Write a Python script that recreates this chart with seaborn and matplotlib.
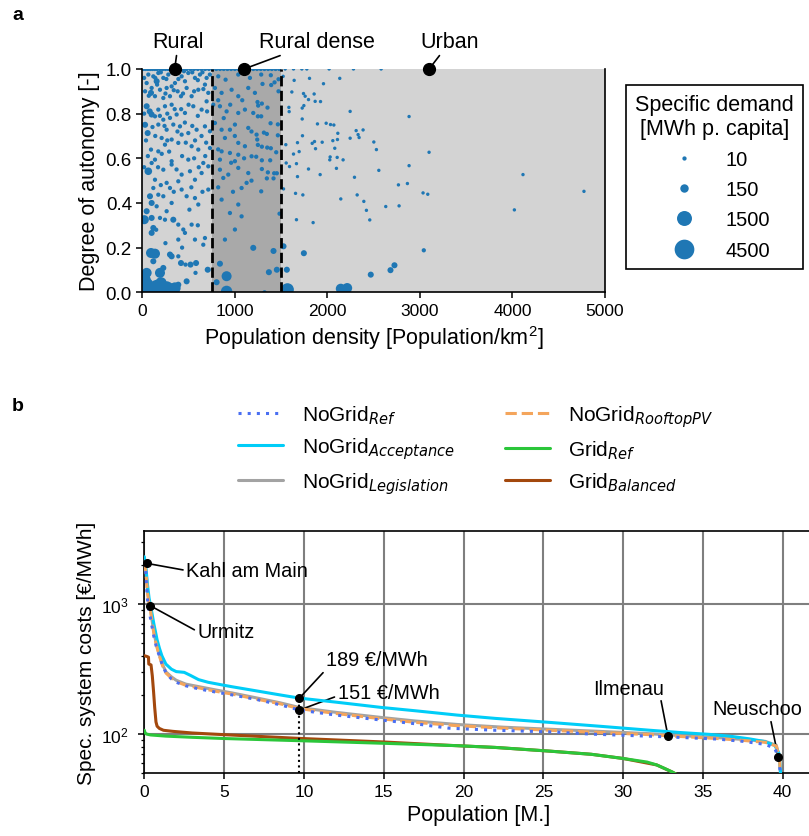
import numpy as np
import pandas as pd
import matplotlib
matplotlib.use("Agg")
import matplotlib.pyplot as plt
import seaborn as sns
from matplotlib.lines import Line2D

# ---------------- panel a : scatter data ----------------
density = [
    10, 35, 60, 85, 110, 135, 160, 190, 220, 250, 280, 310, 340, 370, 400, 440, 480, 520, 560, 600,
    640, 680, 720, 760, 800, 840, 880, 920, 960, 1000, 1040, 1080, 1120, 1160, 1200, 1240, 1280, 1320,
    1360, 1400, 1440, 1480, 1544, 1634, 1724, 1778, 2019, 2282, 2581,
    65, 119, 173, 227, 281, 425, 497, 569, 623, 695, 821, 900, 1037, 1163, 47, 155, 353, 461, 677,
    94, 101, 191, 263, 317, 382, 479, 533, 605, 713, 785, 857, 965, 1037, 1145, 1217, 137, 227, 299, 418,
    47, 101, 173, 245, 317, 371, 461, 551, 641, 695, 767, 839, 911, 1037, 1109, 1199, 137, 227, 299,
    58, 173, 263, 335, 407, 497, 587, 677, 731, 785, 857, 947, 1001, 1145, 1235, 209, 317, 425, 893, 1037, 1109,
    94, 173, 245, 389, 533, 605, 731, 857, 947, 1037, 1181, 137, 317, 497, 659, 839, 1001, 101,
    65, 227, 317, 425, 515, 641, 713, 839, 929, 1037, 1145, 137, 263, 389, 569, 875, 1127, 119, 299,
    83, 173, 227, 425, 479, 569, 713, 857, 1073, 101, 155, 317, 509, 605, 1037, 947, 1073, 47, 263,
    22, 101, 191, 245, 335, 389, 443, 461, 533, 677, 659, 569, 1001, 893, 389, 101, 119, 1199,
    94, 137, 119, 299, 317, 389, 418, 467, 521, 581, 707, 575, 839, 227, 191, 47, 911,
    29, 47, 83, 155, 202, 263, 353, 479, 29, 191, 803, 911, 389, 299,
    1285, 1389, 1429, 1299, 1393, 1472, 1472, 1245, 1292, 1252, 1353, 1285, 1249, 1386, 1465, 1314, 1346,
    1465, 1242, 1249, 1292, 1350, 1389, 1447, 1231, 1292, 1382, 1292, 1357, 1425, 1454, 1346, 1418, 1285,
    1483, 1418, 1454, 1368, 1321,
    1522, 1641, 1807, 1958, 2134, 1616, 1742, 1760, 1796, 1857, 1868, 1926, 1746, 1728, 1584, 1587, 2246,
    1728, 1893, 1987, 2034, 2070, 2311, 2113, 2386, 2332, 2343, 2246, 1731, 2059, 2109, 2502, 1836, 1861,
    1677, 1944, 1551, 1872, 2080, 2530, 1695, 1634, 2030, 2106, 2170, 2026, 1555, 1666, 1591, 1796, 2098,
    2556, 1922, 1677, 2293, 1526, 1656, 1735, 2322, 2145, 2394, 2422, 1666, 1846, 2458,
    1526, 1746, 1562, 2469, 1569, 2145, 2214,
    2883, 3099, 2883, 2768, 2865, 3034, 3085, 2631, 2775, 4114, 4021, 4773, 3042, 2725, 2682,
    20, 140, 200, 260, 330, 390, 450, 540, 600, 650, 730, 30, 70, 160, 250, 340, 440, 560, 660,
    20, 80, 190, 270, 350, 420, 500, 600, 700, 30, 110, 240, 380, 460, 540, 640, 40, 140, 270,
    470, 570, 690, 60, 210, 290, 430, 560, 680, 20, 170, 370, 610, 200, 340, 530, 650, 150, 250,
    430, 600, 820, 950, 1080, 880, 1000, 1180, 820, 960, 1100, 820, 980, 1180,
]
autonomy = [
    1.0, 1.0, 1.0, 1.0, 1.0, 1.0, 1.0, 1.0, 1.0, 1.0, 1.0, 1.0, 1.0, 1.0, 1.0, 1.0, 1.0, 1.0, 1.0, 1.0,
    1.0, 1.0, 1.0, 1.0, 1.0, 1.0, 1.0, 1.0, 1.0, 1.0, 1.0, 1.0, 1.0, 1.0, 1.0, 1.0, 1.0, 1.0,
    1.0, 1.0, 1.0, 1.0, 1.0, 1.0, 1.0, 1.0, 1.0, 1.0, 1.0,
    0.975, 0.967, 0.982, 0.960, 0.975, 0.967, 0.982, 0.960, 0.975, 0.960, 0.967, 0.952, 0.975, 0.960, 0.937, 0.945, 0.937, 0.945, 0.930,
    0.893, 0.915, 0.907, 0.915, 0.922, 0.900, 0.915, 0.878, 0.907, 0.893, 0.915, 0.893, 0.907, 0.878, 0.915, 0.893, 0.878, 0.870, 0.878, 0.878,
    0.833, 0.796, 0.818, 0.833, 0.840, 0.796, 0.803, 0.833, 0.818, 0.855, 0.840, 0.833, 0.810, 0.803, 0.818, 0.803, 0.788, 0.773, 0.781,
    0.713, 0.751, 0.728, 0.751, 0.743, 0.713, 0.728, 0.743, 0.721, 0.758, 0.728, 0.728, 0.751, 0.736, 0.706, 0.691, 0.684, 0.706, 0.691, 0.669, 0.654,
    0.639, 0.631, 0.661, 0.669, 0.654, 0.639, 0.646, 0.631, 0.624, 0.616, 0.609, 0.594, 0.587, 0.594, 0.579, 0.594, 0.587, 0.579,
    0.542, 0.549, 0.572, 0.527, 0.542, 0.534, 0.564, 0.549, 0.527, 0.557, 0.534, 0.504, 0.490, 0.497, 0.504, 0.512, 0.490, 0.467, 0.467,
    0.430, 0.437, 0.430, 0.460, 0.430, 0.422, 0.460, 0.415, 0.467, 0.400, 0.385, 0.400, 0.370, 0.393, 0.393, 0.355, 0.340, 0.363, 0.363,
    0.325, 0.333, 0.333, 0.325, 0.325, 0.303, 0.281, 0.266, 0.303, 0.243, 0.213, 0.236, 0.281, 0.236, 0.236, 0.266, 0.288, 0.199,
    0.176, 0.173, 0.139, 0.169, 0.161, 0.161, 0.131, 0.124, 0.124, 0.131, 0.101, 0.087, 0.128, 0.109, 0.087, 0.087, 0.072,
    0.057, 0.034, 0.019, 0.027, 0.042, 0.019, 0.019, 0.049, 0.004, 0.0, 0.045, 0.004, 0.034, 0.012,
    0.975, 0.972, 0.940, 0.933, 0.928, 0.954, 0.900, 0.852, 0.845, 0.836, 0.827, 0.788, 0.788, 0.757, 0.752, 0.715, 0.709,
    0.703, 0.684, 0.660, 0.652, 0.648, 0.645, 0.627, 0.607, 0.591, 0.591, 0.552, 0.537, 0.533, 0.533, 0.510, 0.510, 0.452,
    0.352, 0.185, 0.101, 0.090, 0.0,
    0.967, 0.949, 0.958, 0.934, 0.958, 0.897, 0.890, 0.878, 0.863, 0.888, 0.855, 0.854, 0.836, 0.825, 0.828, 0.809, 0.810,
    0.776, 0.754, 0.757, 0.751, 0.749, 0.724, 0.712, 0.727, 0.706, 0.693, 0.690, 0.701, 0.679, 0.684, 0.673, 0.667, 0.675,
    0.670, 0.672, 0.661, 0.643, 0.645, 0.639, 0.630, 0.619, 0.606, 0.604, 0.593, 0.593, 0.579, 0.576, 0.563, 0.552, 0.555,
    0.546, 0.527, 0.518, 0.515, 0.463, 0.443, 0.436, 0.436, 0.418, 0.407, 0.367, 0.325, 0.312, 0.324,
    0.206, 0.175, 0.101, 0.079, 0.012, 0.016, 0.019,
    0.787, 0.627, 0.567, 0.481, 0.487, 0.445, 0.439, 0.384, 0.387, 0.527, 0.369, 0.452, 0.188, 0.121, 0.099,
    0.96, 0.96, 0.985, 0.955, 0.985, 0.955, 0.99, 0.985, 0.95, 0.985, 0.975, 0.90, 0.88, 0.93, 0.89, 0.905, 0.89, 0.90, 0.91,
    0.80, 0.81, 0.79, 0.80, 0.82, 0.82, 0.84, 0.79, 0.81, 0.75, 0.74, 0.745, 0.72, 0.76, 0.745, 0.70, 0.68, 0.70, 0.68,
    0.67, 0.68, 0.67, 0.61, 0.62, 0.63, 0.61, 0.60, 0.61, 0.56, 0.56, 0.55, 0.56, 0.48, 0.45, 0.47, 0.45, 0.28, 0.22,
    0.20, 0.30, 0.86, 0.84, 0.86, 0.78, 0.70, 0.72, 0.64, 0.58, 0.60, 0.47, 0.45, 0.50,
]
demand = [
    10, 10, 10, 10, 10, 10, 10, 10, 10, 10, 10, 10, 10, 10, 10, 10, 10, 10, 10, 10,
    10, 10, 10, 10, 10, 10, 10, 10, 10, 10, 10, 10, 10, 10, 10, 10, 10, 10,
    10, 10, 10, 10, 4, 4, 4, 4, 4, 4, 4,
    10, 10, 10, 10, 10, 10, 10, 10, 10, 10, 10, 10, 10, 10, 10, 40, 10, 10, 10,
    40, 10, 10, 10, 10, 10, 10, 10, 10, 10, 10, 10, 10, 10, 10, 10, 10, 10, 10, 10,
    40, 40, 10, 10, 10, 10, 10, 10, 10, 10, 10, 10, 10, 10, 10, 10, 10, 10, 10,
    40, 10, 10, 10, 10, 10, 10, 10, 10, 10, 10, 10, 10, 10, 10, 10, 10, 10, 10, 10, 10,
    10, 10, 10, 10, 10, 10, 10, 10, 10, 10, 10, 10, 10, 10, 10, 10, 10, 10,
    100, 10, 10, 10, 10, 10, 10, 10, 10, 10, 10, 10, 10, 10, 10, 10, 10, 10, 10,
    40, 10, 10, 10, 10, 10, 10, 10, 10, 40, 10, 10, 10, 10, 10, 10, 10, 40, 10,
    200, 40, 10, 10, 40, 10, 10, 10, 10, 10, 10, 10, 10, 10, 10, 40, 40, 40,
    300, 300, 40, 40, 40, 10, 40, 10, 40, 40, 40, 10, 40, 40, 300, 300, 300,
    500, 1000, 1000, 800, 500, 1000, 500, 40, 800, 500, 40, 500, 40, 800,
    10, 10, 10, 10, 10, 10, 10, 10, 10, 10, 10, 10, 10, 10, 10, 10, 10,
    10, 10, 10, 10, 10, 10, 10, 10, 10, 10, 10, 10, 10, 10, 10, 10, 10,
    10, 40, 40, 40, 10,
    4, 4, 4, 4, 4, 4, 4, 4, 4, 4, 4, 4, 4, 4, 4, 4, 4,
    4, 4, 4, 4, 4, 4, 4, 4, 4, 4, 4, 4, 4, 4, 4, 4, 4,
    4, 4, 4, 4, 4, 4, 4, 4, 4, 4, 4, 4, 4, 4, 4, 4, 4,
    4, 4, 4, 4, 4, 4, 4, 4, 4, 4, 4, 4, 4, 4,
    40, 40, 40, 40, 800, 300, 300,
    4, 4, 4, 4, 4, 4, 4, 4, 4, 4, 4, 4, 10, 40, 40,
    10, 10, 10, 10, 10, 10, 10, 10, 10, 10, 10, 10, 10, 10, 10, 10, 10, 10, 10,
    10, 40, 10, 10, 10, 10, 10, 10, 10, 40, 10, 10, 10, 10, 10, 10, 10, 10, 10,
    10, 10, 10, 10, 10, 10, 10, 10, 10, 10, 10, 10, 10, 10, 10, 10, 10, 10, 10,
    10, 10, 10, 10, 10, 10, 10, 10, 10, 10, 10, 10, 10, 10,
]

region_bounds = [0, 750, 1500, 5000]
region_colors = ["#d3d3d3", "#a9a9a9", "#d3d3d3"]
region_names = ["Rural", "Rural dense", "Urban"]
region_dot_x = [350, 1100, 3100]
region_text_x = [390, 1890, 3326]
legend_demand = [10, 150, 1500, 4500]

# ---------------- panel b : cost curves ----------------
pop_ref = [0, 0.08, 0.15, 0.22, 0.31, 0.4, 0.5, 0.6, 0.75, 0.95, 1.15, 1.36, 1.7, 2.0, 2.6, 3.45, 4.5,
           5.5, 7.0, 8.5, 9.72, 12.0, 14.9, 17.0, 19.1, 22.0, 25.4, 28.0, 30.0, 33.0, 35.9, 37.5, 38.9,
           39.5, 39.75, 39.85, 39.9]
cost_ref = [2100, 1900, 1300, 1000, 870, 760, 650, 560, 470, 395, 335, 295, 265, 250, 235, 222, 210,
            200, 185, 168, 153, 140, 128, 120, 111, 107, 104, 100, 98, 95, 91.6, 88, 83.4,
            78, 65, 50, 40]

pop_acc = [0, 0.1, 0.2, 0.3, 0.4, 0.5, 0.6, 0.7, 0.8, 0.95, 1.1, 1.35, 1.7, 2.0, 2.5, 2.9, 3.4, 4.0,
           5.0, 5.5, 7.0, 8.5, 9.72, 12.0, 14.9, 17.0, 19.6, 22.0, 25.4, 28.5, 31.7, 33.5, 35.4, 36.8,
           37.9, 38.8, 39.5, 39.75, 39.85, 39.9]
cost_acc = [2300, 1900, 1400, 1100, 960, 820, 700, 610, 530, 455, 400, 345, 315, 302, 298, 282, 262, 250,
            237, 231, 215, 200, 189, 176, 160, 151, 140, 132, 123, 115, 107, 103, 99.5, 96,
            92, 88, 82, 72, 55, 40]

pop_leg = [0, 0.1, 0.2, 0.3, 0.36, 0.45, 0.55, 0.65, 0.8, 0.95, 1.15, 1.36, 1.7, 2.0, 2.6, 3.45, 4.5,
           5.5, 7.0, 8.5, 9.72, 12.0, 14.9, 17.0, 19.6, 22.5, 25.4, 28.5, 31.7, 33.5, 35.9, 37.5, 38.9,
           39.6, 39.8, 39.9]
cost_leg = [2200, 1800, 1250, 1020, 970, 800, 660, 560, 470, 405, 340, 300, 275, 259, 242, 231, 218,
            207, 190, 174, 160, 147, 134, 126, 118.6, 113, 109, 105, 100.7, 97.5, 94, 91, 88,
            82, 65, 40]

pop_pv = [0, 0.1, 0.2, 0.3, 0.36, 0.45, 0.55, 0.65, 0.8, 0.95, 1.15, 1.36, 1.7, 2.0, 2.6, 3.45, 4.5,
          5.5, 7.0, 8.5, 9.72, 12.0, 14.9, 17.0, 19.6, 22.5, 25.4, 28.5, 31.7, 33.5, 35.9, 37.5, 38.9,
          39.6, 39.8, 39.9]
cost_pv = [2150, 1750, 1220, 1000, 950, 785, 645, 548, 460, 396, 333, 294, 269, 253, 237, 226, 213,
           203, 186, 171, 157, 144, 131, 123, 116, 111, 107, 103, 99, 96, 92.5, 89.5, 86.5,
           81, 64, 40]

pop_grid = [0, 0.05, 0.15, 0.4, 1.36, 3.0, 5.0, 9.72, 15.0, 19.6, 22.0, 25.4, 28.0, 30.0, 31.5,
            32.1, 32.6, 33.1, 33.6, 34.0]
cost_grid = [107, 102, 100, 98.5, 96.5, 94.5, 92.5, 89, 85, 81.5, 79, 74, 70, 65, 61,
             58, 54.5, 51, 47, 44]

pop_bal = [0, 0.15, 0.26, 0.28, 0.42, 0.5, 0.58, 0.65, 0.73, 0.8, 0.94, 1.2, 1.78, 3.0, 5.0, 9.72,
           15.0, 19.1, 22.0, 25.4, 28.0, 30.0, 32.1, 33.1, 34.0]
cost_bal = [400, 395, 390, 345, 340, 280, 211, 160, 124, 115, 110.6, 107, 105, 102, 99, 92.7,
            87, 82, 79, 74, 70, 65, 58, 51, 44]

series_labels = [r"NoGrid$_{\mathit{Ref}}$", r"NoGrid$_{\mathit{Acceptance}}$",
                 r"NoGrid$_{\mathit{Legislation}}$", r"NoGrid$_{\mathit{RooftopPV}}$",
                 r"Grid$_{\mathit{Ref}}$", r"Grid$_{\mathit{Balanced}}$"]
series_x = [pop_ref, pop_acc, pop_leg, pop_pv, pop_grid, pop_bal]
series_y = [cost_ref, cost_acc, cost_leg, cost_pv, cost_grid, cost_bal]
series_colors = ["#4a6ff2", "#00cdf8", "#a3a3a3", "#f4a55c", "#2bc63a", "#a3480d"]
series_styles = [(0, (1, 2)), "-", "-", "--", "-", "-"]
series_z = [6, 4, 3, 5, 3.5, 3.2]

town_names = ["Kahl am Main", "Urmitz", "Ilmenau", "Neuschoo"]
town_pop = [0.17, 0.36, 32.81, 39.71]
town_cost = [2046, 970, 96.5, 67]
town_text_pos = [(2.63, 1637), (3.34, 556), (30.34, 205), (38.38, 141.6)]
town_ha = ["left", "left", "center", "center"]
town_relpos = [(0, 0.5), (0, 0.5), (0.95, 0), (0.65, 0)]

mark_pop = 9.72
mark_costs = [189, 151]
mark_cost_pos = [189, 153]
mark_text_pos = [(11.39, 337), (12.12, 191)]
mark_relpos = [(0, 0), (0, 0.3)]

# ---------------- style ----------------
sns.set_style("ticks")
plt.rcParams["font.family"] = ["Liberation Sans", "DejaVu Sans"]
plt.rcParams["mathtext.fontset"] = "dejavusans"
plt.rcParams["axes.edgecolor"] = "black"
plt.rcParams["axes.linewidth"] = 1.2
plt.rcParams["xtick.color"] = "black"
plt.rcParams["ytick.color"] = "black"
plt.rcParams["text.color"] = "black"
plt.rcParams["axes.labelcolor"] = "black"

fig = plt.figure(figsize=(8.09, 8.37), dpi=100)

# ---------------- panel a ----------------
ax1 = fig.add_axes([0.1759, 0.6496, 0.5719, 0.2668])
for lo, hi, c in zip(region_bounds[:-1], region_bounds[1:], region_colors):
    ax1.axvspan(lo, hi, color=c, lw=0, zorder=0)

df_a = pd.DataFrame({"density": density, "autonomy": autonomy, "demand": demand})
size_fn = lambda v: 3.0 * np.sqrt(v)
size_map = {v: size_fn(v) for v in sorted(set(demand))}
sns.scatterplot(data=df_a, x="density", y="autonomy", size="demand", sizes=size_map,
                color="#1f77b4", linewidth=0, legend=False, ax=ax1, zorder=2)

for b in region_bounds[1:3]:
    ax1.axvline(b, color="black", ls="--", lw=2.0, zorder=3)

for name, dx, tx in zip(region_names, region_dot_x, region_text_x):
    ax1.plot([dx], [1.0], "o", color="black", ms=8.5, clip_on=False, zorder=6)
    ax1.annotate(name, xy=(dx, 1.0), xytext=(tx, 1.097), ha="center", va="baseline",
                 fontsize=15.5, annotation_clip=False,
                 arrowprops=dict(arrowstyle="-", color="black", lw=1.2, shrinkA=0, shrinkB=0))

ax1.set_xlim(0, 5000)
ax1.set_ylim(0, 1)
ax1.set_xticks(range(0, 5001, 1000))
ax1.set_yticks([0, 0.2, 0.4, 0.6, 0.8, 1.0])
ax1.set_yticklabels(["%.1f" % v for v in [0, 0.2, 0.4, 0.6, 0.8, 1.0]])
ax1.spines["top"].set_visible(False)
ax1.tick_params(labelsize=12.5, length=4, width=1.1, direction="out")
ax1.tick_params(axis="y", labelsize=13.5)
ax1.set_xlabel(r"Population density [Population/km$^\mathdefault{2}$]", fontsize=15.5)
ax1.set_ylabel("Degree of autonomy [-]", fontsize=15.5)

handles = [Line2D([], [], marker="o", ls="", color="#1f77b4", markeredgewidth=0,
                  markersize=np.sqrt(size_fn(v))) for v in legend_demand]
leg1 = fig.legend(handles, [str(v) for v in legend_demand],
                  title="Specific demand\n[MWh p. capita]", loc="upper left",
                  bbox_to_anchor=(626 / 809, 1 - 86 / 837), bbox_transform=fig.transFigure,
                  fontsize=14.5, title_fontsize=15.5, frameon=True, fancybox=False,
                  edgecolor="black", framealpha=1, handlelength=2.56, handletextpad=0.76,
                  labelspacing=0.55, borderpad=0.45, borderaxespad=0)
leg1.get_frame().set_linewidth(1.2)
leg1.get_title().set_multialignment("center")

# ---------------- panel b ----------------
ax2 = fig.add_axes([0.1784, 0.0749, 0.8266, 0.2899])
for lab, xs, ys, c, ls, z in zip(series_labels, series_x, series_y, series_colors,
                                  series_styles, series_z):
    sns.lineplot(x=xs, y=ys, ax=ax2, color=c, linestyle=ls, lw=2.2, label=lab,
                 estimator=None, sort=False, zorder=z)
h, l = ax2.get_legend_handles_labels()
if ax2.get_legend() is not None:
    ax2.get_legend().remove()

ax2.set_yscale("log")
ax2.set_xlim(0, 41.9)
ax2.set_ylim(50, 3650)
ax2.set_xticks(range(0, 41, 5))
ax2.grid(True, which="major", color="#7f7f7f", lw=1.5, zorder=1)
ax2.set_axisbelow(True)
ax2.tick_params(which="major", labelsize=12.5, length=4, width=1.1)
ax2.tick_params(which="minor", length=2.5, width=0.9)
ax2.tick_params(axis="y", which="major", pad=7)
ax2.set_xlabel("Population [M.]", fontsize=15.5)
ax2.set_ylabel("Spec. system costs [€/MWh]", fontsize=15)

ax2.vlines(mark_pop, 50, mark_costs[0], colors="black", linestyles=":", lw=1.5, zorder=7)
for val, yv, tp, rp in zip(mark_costs, mark_cost_pos, mark_text_pos, mark_relpos):
    ax2.plot([mark_pop], [yv], "o", color="black", ms=5.5, zorder=10)
    ax2.annotate("%d €/MWh" % val, xy=(mark_pop, yv), xytext=tp, ha="left", va="baseline",
                 fontsize=14.3,
                 arrowprops=dict(arrowstyle="-", color="black", lw=1.2, relpos=rp,
                                 shrinkA=0, shrinkB=0))

for name, px, cy, tp, ha, rp in zip(town_names, town_pop, town_cost, town_text_pos,
                                    town_ha, town_relpos):
    ax2.plot([px], [cy], "o", color="black", ms=5.5, zorder=10, clip_on=False)
    ax2.annotate(name, xy=(px, cy), xytext=tp, ha=ha, va="baseline", fontsize=14.3,
                 arrowprops=dict(arrowstyle="-", color="black", lw=1.2, relpos=rp,
                                 shrinkA=0, shrinkB=0))

leg2 = fig.legend(h, l, ncol=2, loc="upper left", bbox_to_anchor=(238 / 809, 1 - 404 / 837),
                  bbox_transform=fig.transFigure, frameon=False, fontsize=15,
                  handlelength=2.16, handletextpad=0.9, columnspacing=2.4,
                  labelspacing=0.45, borderpad=0, borderaxespad=0)

fig.text(12 / 809, 1 - 20 / 837, "a", fontsize=14, fontweight="bold", va="baseline")
fig.text(12 / 809, 1 - 411 / 837, "b", fontsize=14, fontweight="bold", va="baseline")

fig.savefig("out.png", dpi=100)
